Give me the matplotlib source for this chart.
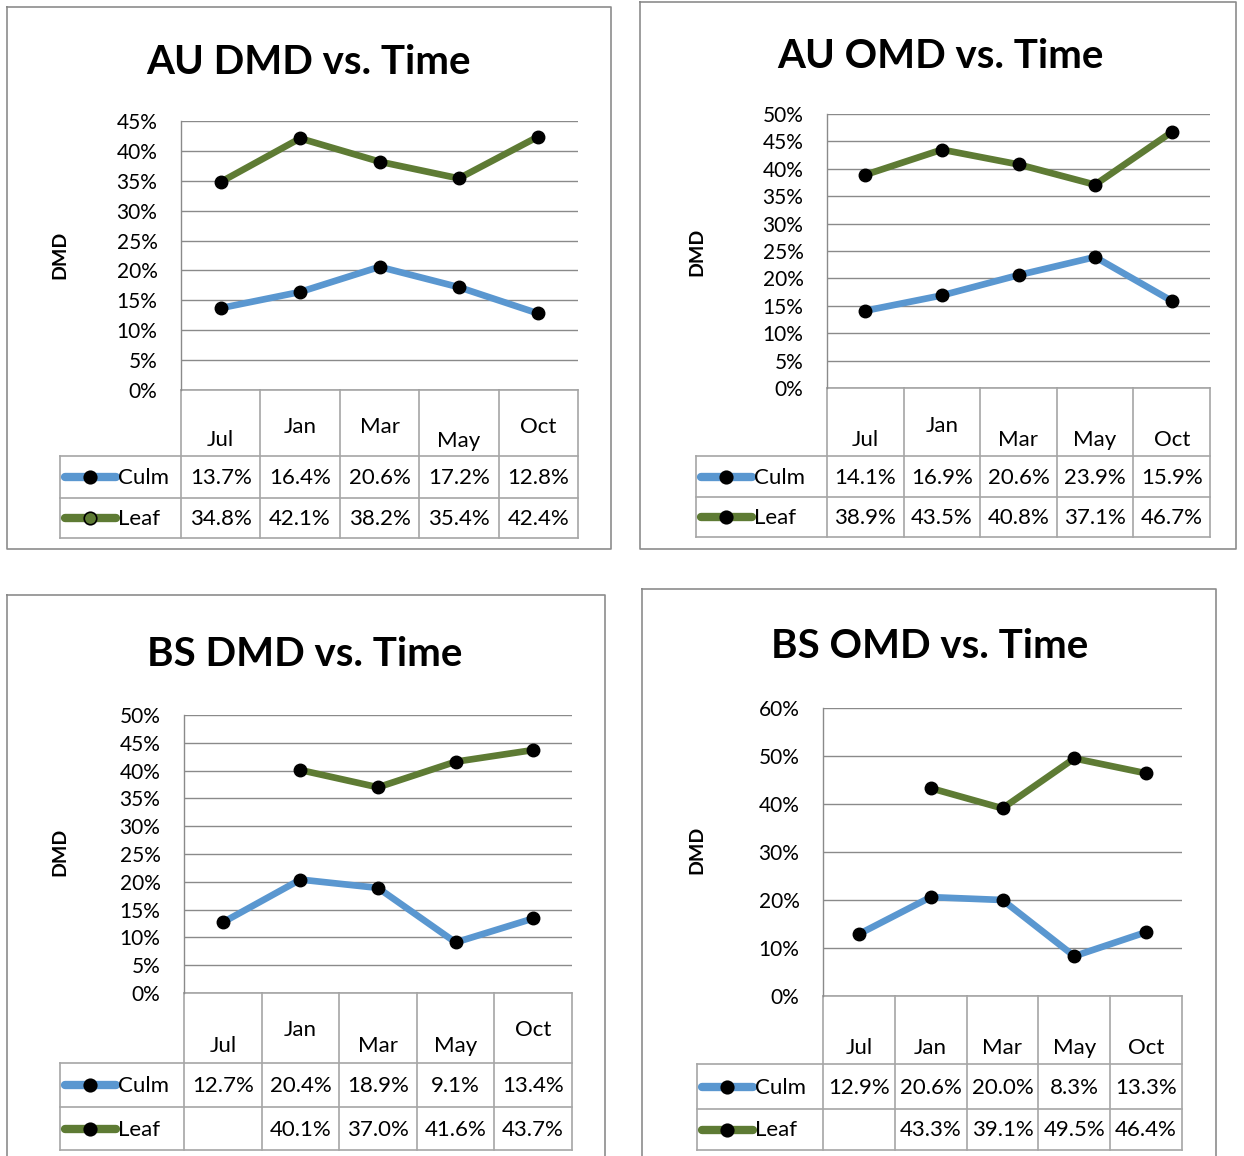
import numpy as np
import matplotlib
matplotlib.use("Agg")
import matplotlib.pyplot as plt
from matplotlib.ticker import FuncFormatter

plt.rcParams['font.family'] = ['Lato', 'DejaVu Sans']

# data (percent)
months = ["Jul", "Jan", "Mar", "May", "Oct"]
au_dmd_culm = [13.7, 16.4, 20.6, 17.2, 12.8]
au_dmd_leaf = [34.8, 42.1, 38.2, 35.4, 42.4]
au_omd_culm = [14.1, 16.9, 20.6, 23.9, 15.9]
au_omd_leaf = [38.9, 43.5, 40.8, 37.1, 46.7]
bs_dmd_culm = [12.7, 20.4, 18.9, 9.1, 13.4]
bs_dmd_leaf = [np.nan, 40.1, 37.0, 41.6, 43.7]
bs_omd_culm = [12.9, 20.6, 20.0, 8.3, 13.3]
bs_omd_leaf = [np.nan, 43.3, 39.1, 49.5, 46.4]

W, H = 1244, 1156
BLUE = '#5A97D0'
GREEN = '#5E7B34'
GRID = '#8A8A8A'
TBL = '#A6A6A6'

fig = plt.figure(figsize=(W / 100, H / 100), dpi=100)
bg = fig.add_axes([0, 0, 1, 1])
bg.set_xlim(0, W)
bg.set_ylim(H, 0)
bg.axis('off')


def box(l, t, r, b):
    return [l / W, 1 - b / H, (r - l) / W, (b - t) / H]


panels = [
    dict(title="AU DMD vs. Time", frame=(7, 7, 611, 549), plot=(181, 121, 578, 390),
         ymax=45, step=5, rows=(456, 498, 538), leg=60, title_xy=(308, 62),
         cat_y=[440, 427, 427, 441, 427], ylab=(60, 255),
         culm=au_dmd_culm, leaf=au_dmd_leaf, hollow=True),
    dict(title="AU OMD vs. Time", frame=(640, 2, 1236, 549), plot=(827, 114, 1210, 388),
         ymax=50, step=5, rows=(456, 497, 537), leg=696, title_xy=(940, 57),
         cat_y=[440, 426, 440, 440, 440], ylab=(697, 252),
         culm=au_omd_culm, leaf=au_omd_leaf, hollow=False),
    dict(title="BS DMD vs. Time", frame=(7, 595, 605, 1170), plot=(184, 715, 572, 993),
         ymax=50, step=5, rows=(1063, 1107, 1150), leg=60, title_xy=(305, 654),
         cat_y=[1046, 1030, 1046, 1046, 1030], ylab=(60, 852),
         culm=bs_dmd_culm, leaf=bs_dmd_leaf, hollow=False),
    dict(title="BS OMD vs. Time", frame=(642, 589, 1216, 1170), plot=(823, 708, 1182, 996),
         ymax=60, step=10, rows=(1064, 1109, 1150), leg=697, title_xy=(930, 647),
         cat_y=[1048] * 5, ylab=(697, 850),
         culm=bs_omd_culm, leaf=bs_omd_leaf, hollow=False),
]

for p in panels:
    fl, ft, fr, fb = p['frame']
    bg.plot([fl, fr, fr, fl, fl], [ft, ft, fb, fb, ft], color='#8C8C8C', lw=1.2)
    bg.text(*p['title_xy'], p['title'], ha='center', va='center',
            fontsize=29, fontweight='bold', color='black')
    bg.text(*p['ylab'], "DMD", ha='center', va='center', rotation=90,
            fontsize=14, fontweight='bold')

    l, t, r, b = p['plot']
    ax = fig.add_axes(box(l, t, r, b))
    ax.patch.set_alpha(0)
    x = np.arange(len(months))
    ax.plot(x, p['culm'], color=BLUE, lw=4.8, marker='o', ms=9,
            mfc='black', mec='black', solid_capstyle='round', zorder=3)
    ax.plot(x, p['leaf'], color=GREEN, lw=4.8, marker='o', ms=9,
            mfc='black', mec='black', solid_capstyle='round', zorder=3)
    ax.set_xlim(-0.5, len(months) - 0.5)
    ax.set_ylim(0, p['ymax'])
    ax.set_yticks(np.arange(0, p['ymax'] + 1, p['step']))
    ax.yaxis.set_major_formatter(FuncFormatter(lambda v, _: f"{v:.0f}%"))
    ax.set_xticks([])
    ax.tick_params(axis='y', length=0, pad=17, labelsize=15)
    ax.grid(axis='y', color=GRID, lw=1.0)
    for s in ['top', 'right', 'bottom']:
        ax.spines[s].set_visible(False)
    ax.spines['left'].set_color(GRID)
    ax.spines['left'].set_linewidth(1.0)

    # data table under the plot
    cw = (r - l) / len(months)
    r1, r2, r3 = p['rows']
    lg = p['leg']
    for i in range(len(months) + 1):
        bg.plot([l + i * cw] * 2, [b, r3], color=TBL, lw=1.2)
    bg.plot([lg, lg], [r1, r3], color=TBL, lw=1.2)
    bg.plot([l, r], [b, b], color=TBL, lw=1.2)
    for yy in (r1, r2, r3):
        bg.plot([lg, r], [yy, yy], color=TBL, lw=1.2)
    for i, m in enumerate(months):
        bg.text(l + (i + 0.5) * cw, p['cat_y'][i], m, ha='center', va='center', fontsize=16)
    for vals, (y0, y1), col, name in [(p['culm'], (r1, r2), BLUE, "Culm"),
                                      (p['leaf'], (r2, r3), GREEN, "Leaf")]:
        yc = (y0 + y1) / 2
        for i, v in enumerate(vals):
            if not np.isnan(v):
                bg.text(l + (i + 0.5) * cw, yc + 1, f"{v:.1f}%", ha='center', va='center', fontsize=16)
        bg.plot([lg + 5, lg + 56], [yc, yc], color=col, lw=6, solid_capstyle='round')
        face = GREEN if (p['hollow'] and name == "Leaf") else 'black'
        bg.plot([lg + 30], [yc], marker='o', ms=9, mfc=face, mec='black', mew=1.2)
        bg.text(lg + 58, yc + 1, name, ha='left', va='center', fontsize=16)

fig.savefig("out.png", dpi=100)
